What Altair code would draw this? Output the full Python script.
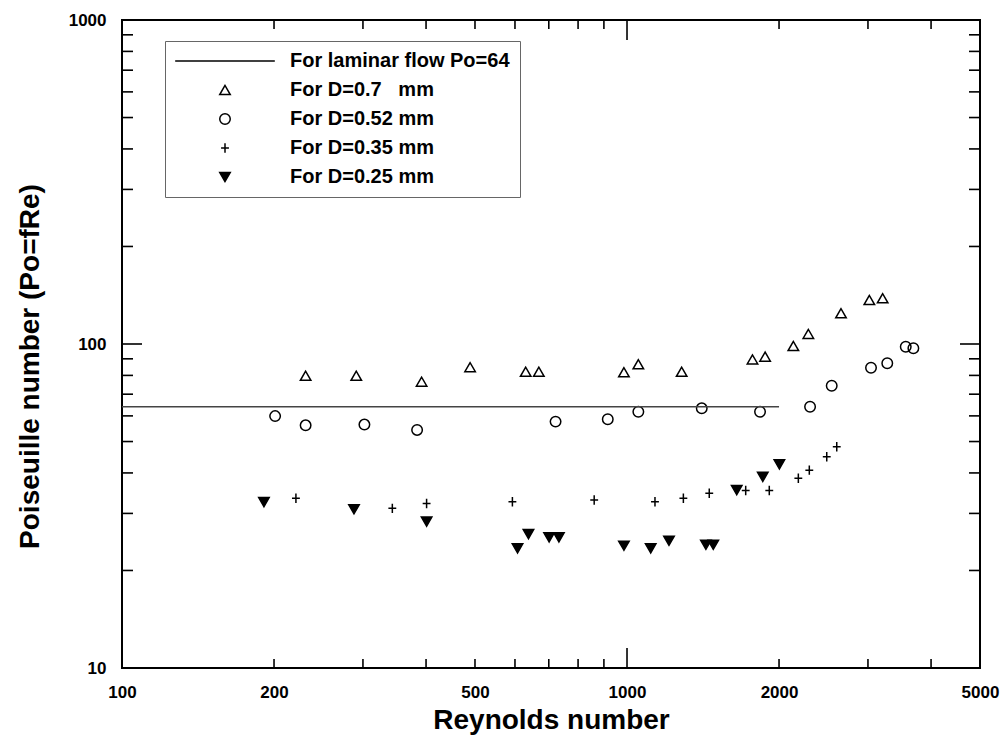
import altair as alt
import pandas as pd

# ---- data ----
labels = ["For laminar flow Po=64", "For D=0.7\u00a0\u00a0\u00a0mm", "For D=0.52 mm",
          "For D=0.35 mm", "For D=0.25 mm"]

laminar_re = [100, 2000]
laminar_po = [64, 64]

re_07 = [231, 291, 392, 489, 630, 669, 986, 1053, 1283, 1772, 1877, 2135, 2286, 2653, 3019, 3208]
po_07 = [79.8, 79.8, 76.5, 84.8, 82.1, 82.1, 81.8, 86.6, 82.1, 89.6, 91.4, 98.6, 107.4, 124.4, 136.7, 138.4]

re_052 = [201, 231, 302, 384, 722, 916, 1053, 1406, 1834, 2304, 2543, 3042, 3276, 3564, 3690]
po_052 = [59.9, 56.1, 56.4, 54.3, 57.6, 58.6, 61.8, 63.3, 61.8, 64.0, 74.3, 84.5, 87.2, 98.1, 97.0]

re_035 = [221, 343, 401, 593, 861, 1136, 1293, 1455, 1718, 1913, 2184, 2296, 2486, 2602]
po_035 = [33.4, 31.1, 32.2, 32.6, 33.0, 32.6, 33.4, 34.6, 35.3, 35.3, 38.5, 40.8, 44.9, 48.2]

re_025 = [191, 288, 401, 607, 638, 701, 733, 986, 1114, 1211, 1433, 1482, 1649, 1857, 2003]
po_025 = [32.5, 30.9, 28.3, 23.4, 25.9, 25.3, 25.3, 23.85, 23.4, 24.7, 24.0, 24.0, 35.4, 38.9, 42.5]

x_tick_labels = [100, 200, 500, 1000, 2000, 5000]
y_tick_labels = [10, 100, 1000]
x_minor_ticks = [200, 300, 400, 500, 600, 700, 800, 900, 2000, 3000, 4000]
x_major_ticks = [1000]
y_minor_ticks = [20, 30, 40, 50, 60, 70, 80, 90, 200, 300, 400, 500, 600, 700, 800, 900]
y_major_ticks = [100]

# ---- tables ----
pts = pd.concat([
    pd.DataFrame({"re": re_07, "po": po_07, "series": labels[1]}),
    pd.DataFrame({"re": re_052, "po": po_052, "series": labels[2]}),
    pd.DataFrame({"re": re_035, "po": po_035, "series": labels[3]}),
    pd.DataFrame({"re": re_025, "po": po_025, "series": labels[4]}),
], ignore_index=True)
lam = pd.DataFrame({"re": laminar_re, "po": laminar_po})

W, H = 858, 648
FONT = "Liberation Sans"

xs = alt.Scale(type="log", domain=[100, 5000], nice=False)
ys = alt.Scale(type="log", domain=[10, 1000], nice=False)

shapes = ["M-9.5,0H9.5", "triangle-up", "circle", "M-0.75,0H0.75M0,-0.9V0.9", "triangle-down"]
fills = ["transparent", "transparent", "transparent", "transparent", "black"]
strokes = ["black", "black", "black", "black", "black"]

leg = alt.Legend(
    title=None, orient="none", legendX=43, legendY=21, padding=10,
    symbolSize=110, symbolStrokeWidth=1.5, symbolStrokeColor="black",
    symbolOffset=40, labelOffset=55, rowPadding=9,
    labelFont=FONT, labelFontWeight="bold", labelFontSize=20, labelColor="black",
    labelLimit=0, strokeColor="#666", fillColor="white",
)

xaxis = alt.Axis(values=x_tick_labels, format="d", ticks=False, domain=False, grid=False,
                 labelFont=FONT, labelFontWeight="bold", labelFontSize=17, labelColor="black",
                 labelPadding=16, labelFlush=False, labelOverlap=False,
                 title="Reynolds number", titleFont=FONT, titleFontSize=28,
                 titleFontWeight="bold", titleColor="black", titlePadding=6, titleLimit=0)
yaxis = alt.Axis(values=y_tick_labels, format="d", ticks=False, domain=False, grid=False,
                 labelFont=FONT, labelFontWeight="bold", labelFontSize=17, labelColor="black",
                 labelPadding=16, labelFlush=False, labelOverlap=False,
                 title="Poiseuille number (Po=fRe)", titleFont=FONT, titleFontSize=28,
                 titleFontWeight="bold", titleColor="black", titlePadding=24, titleLimit=0,
                 titleY=346)

points = alt.Chart(pts).mark_point(filled=True, size=110, strokeWidth=1.5, opacity=1).encode(
    x=alt.X("re:Q", scale=xs, axis=xaxis),
    y=alt.Y("po:Q", scale=ys, axis=yaxis),
    shape=alt.Shape("series:N", scale=alt.Scale(domain=labels, range=shapes), legend=leg),
    fill=alt.Fill("series:N", scale=alt.Scale(domain=labels, range=fills), legend=leg),
    stroke=alt.Stroke("series:N", scale=alt.Scale(domain=labels, range=strokes), legend=leg),
)

line = alt.Chart(lam).mark_line(color="#444", strokeWidth=1.4).encode(
    x=alt.X("re:Q", scale=xs, axis=xaxis),
    y=alt.Y("po:Q", scale=ys, axis=yaxis),
)

def xticks(vals, length, top):
    df = pd.DataFrame({"re": vals})
    y0, y1 = (0, length) if top else (H, H - length)
    return alt.Chart(df).mark_rule(color="black", strokeWidth=1.6).encode(
        x=alt.X("re:Q", scale=xs, axis=xaxis), y=alt.value(y0), y2=alt.value(y1))

def yticks(vals, length, right):
    df = pd.DataFrame({"po": vals})
    x0, x1 = (W, W - length) if right else (0, length)
    return alt.Chart(df).mark_rule(color="black", strokeWidth=1.6).encode(
        y=alt.Y("po:Q", scale=ys, axis=yaxis), x=alt.value(x0), x2=alt.value(x1))

tick_layers = [
    xticks(x_minor_ticks, 9, False), xticks(x_major_ticks, 20, False),
    xticks(x_minor_ticks, 9, True), xticks(x_major_ticks, 20, True),
    yticks(y_minor_ticks, 11, False), yticks(y_major_ticks, 20, False),
    yticks(y_minor_ticks, 11, True), yticks(y_major_ticks, 20, True),
]

chart = alt.layer(points, line, *tick_layers).properties(
    width=W, height=H,
    padding={"left": 122, "top": 20, "right": 27, "bottom": 75},
    autosize=alt.AutoSizeParams(type="none"),
    background="white",
).configure_view(stroke="black", strokeWidth=2)

chart.save("out.html", embed_options={"renderer": "svg", "actions": False})
